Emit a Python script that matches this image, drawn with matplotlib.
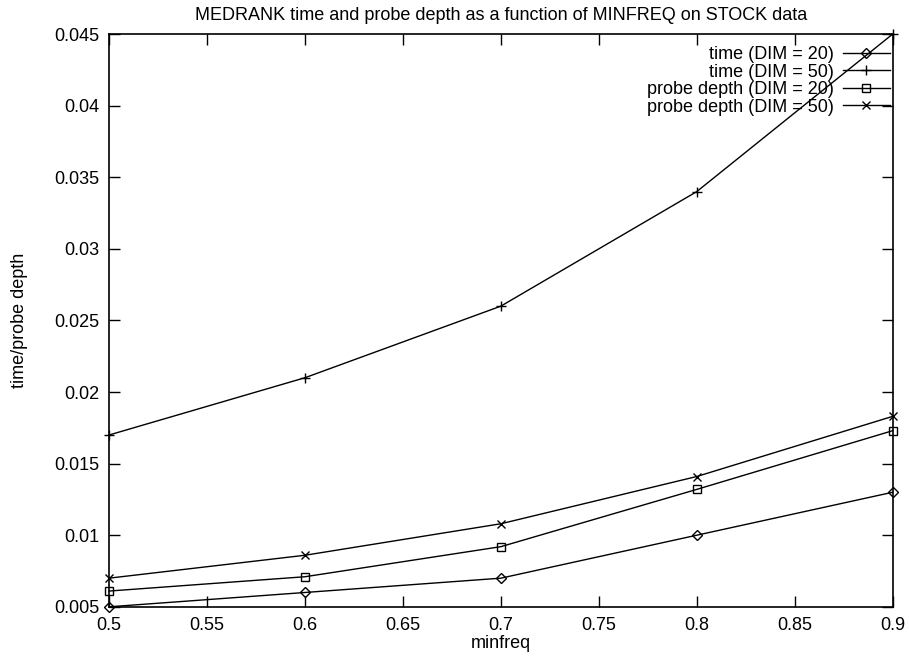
import matplotlib
matplotlib.use("Agg")
import matplotlib.pyplot as plt

plt.rcParams['font.family'] = ['Liberation Sans', 'DejaVu Sans']

minfreq = [0.5, 0.6, 0.7, 0.8, 0.9]
time_dim20 = [0.005, 0.006, 0.007, 0.010, 0.013]
time_dim50 = [0.017, 0.021, 0.026, 0.034, 0.045]
probe_dim20 = [0.0061, 0.0071, 0.0092, 0.0132, 0.0173]
probe_dim50 = [0.0070, 0.0086, 0.0108, 0.0141, 0.0183]

x_ticks = [0.5, 0.55, 0.6, 0.65, 0.7, 0.75, 0.8, 0.85, 0.9]
y_ticks = [0.005, 0.01, 0.015, 0.02, 0.025, 0.03, 0.035, 0.04, 0.045]

fig = plt.figure(figsize=(9.09, 6.56), dpi=100)
ax = fig.add_axes([0.120, 0.075, 0.862, 0.873])

kw = dict(color='black', lw=1.0, markerfacecolor='none', markeredgecolor='black',
          clip_on=False)
ax.plot(minfreq, time_dim20, marker='D', ms=5, mew=1.0, label='time (DIM = 20)', **kw)
ax.plot(minfreq, time_dim50, marker='+', ms=7, mew=1.0, label='time (DIM = 50)', **kw)
ax.plot(minfreq, probe_dim20, marker='s', ms=6, mew=1.0, label='probe depth (DIM = 20)', **kw)
ax.plot(minfreq, probe_dim50, marker='x', ms=6, mew=1.0, label='probe depth (DIM = 50)', **kw)

ax.set_xlim(0.5, 0.9)
ax.set_ylim(0.005, 0.045)
ax.set_xticks(x_ticks)
ax.set_xticklabels(['0.5', '0.55', '0.6', '0.65', '0.7', '0.75', '0.8', '0.85', '0.9'])
ax.set_yticks(y_ticks)
ax.set_yticklabels(['0.005', '0.01', '0.015', '0.02', '0.025', '0.03', '0.035', '0.04', '0.045'])
ax.tick_params(direction='in', length=8, width=1, top=True, right=True,
               labelsize=13, pad=7)
for s in ax.spines.values():
    s.set_linewidth(1.2)

ax.set_xlabel('minfreq', fontsize=13, labelpad=1)
ax.set_ylabel('time/probe depth', fontsize=13, labelpad=19)
ax.set_title('MEDRANK time and probe depth as a function of MINFREQ on STOCK data',
             fontsize=13, pad=10)

ax.legend(loc='upper right', frameon=False, markerfirst=False, fontsize=13,
          handlelength=2.6, handletextpad=0.5, labelspacing=0.03,
          borderaxespad=0.0, bbox_to_anchor=(1.0055, 0.9916))

fig.savefig('out.png', dpi=100)
